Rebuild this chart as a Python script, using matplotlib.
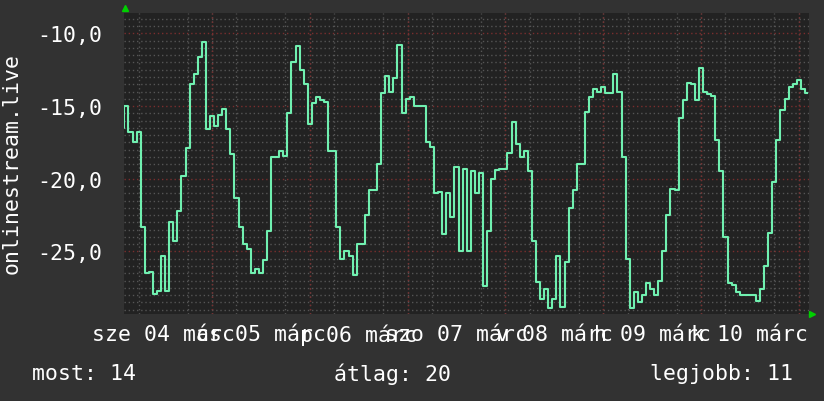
import matplotlib.pyplot as plt
import numpy as np

# rank of onlinestream.live, hourly samples, hours counted from "sze 04 márc" 00:00
start_hour = 2
rank = [-16.5, -15.0, -16.8, -17.5, -16.8, -23.3, -26.5, -26.4, -27.9, -27.7,
        -25.3, -27.7, -23.0, -24.3, -22.2, -19.8, -17.9, -13.5, -12.8, -11.6,
        -10.6, -16.6, -15.7, -16.4, -15.6, -15.2, -16.6, -18.3, -21.3, -23.3,
        -24.5, -24.8, -26.5, -26.2, -26.5, -25.6, -23.6, -18.5, -18.5, -18.1,
        -18.4, -15.5, -12.0, -10.9, -12.5, -13.5, -16.2, -14.8, -14.4, -14.6,
        -14.7, -18.1, -18.1, -23.3, -25.5, -25.0, -25.3, -26.6, -24.5, -24.5,
        -22.5, -20.8, -20.8, -19.0, -14.1, -12.9, -14.0, -13.1, -10.8, -15.5,
        -14.5, -14.4, -15.0, -15.0, -15.0, -17.5, -17.8, -21.0, -20.9, -23.8,
        -21.0, -22.6, -19.2, -25.0, -19.3, -25.0, -19.5, -21.0, -19.6, -27.4,
        -23.6, -20.0, -19.4, -19.3, -19.3, -18.2, -16.1, -17.6, -18.5, -18.1,
        -19.5, -24.3, -27.1, -28.3, -27.6, -28.9, -28.3, -25.3, -28.8, -25.7,
        -22.0, -20.8, -19.0, -19.0, -15.4, -14.4, -13.8, -14.0, -13.7, -14.1,
        -14.1, -12.8, -14.0, -18.5, -25.5, -28.9, -27.8, -28.5, -28.0, -27.2,
        -27.6, -28.0, -27.0, -25.0, -22.5, -20.7, -20.8, -15.8, -14.6, -13.4,
        -13.5, -14.6, -12.4, -14.0, -14.2, -14.3, -17.3, -19.5, -24.0, -27.2,
        -27.3, -27.8, -28.0, -28.0, -28.0, -28.0, -28.4, -27.6, -26.0, -23.7,
        -20.2, -17.3, -15.3, -14.5, -13.7, -13.5, -13.2, -13.8, -14.1]

day_labels = ['sze 04 márc', 'cs 05 márc', 'p 06 márc', 'szo 07 márc',
              'v 08 márc', 'h 09 márc', 'k 10 márc']
y_ticks = [-25, -20, -15, -10]
summary = ['most: 14', 'átlag: 20', 'legjobb: 11']

bg = '#323232'
plot_bg = '#222222'
line_color = '#70f0b0'
minor_grid = '#555555'
major_grid = '#7a2e2e'

plt.rcParams['font.family'] = 'DejaVu Sans Mono'
plt.rcParams['font.size'] = 15.5

fig = plt.figure(figsize=(8.24, 4.02), dpi=100, facecolor=bg)
ax = fig.add_axes([124 / 824, 1 - 315 / 402, 685 / 824, 301 / 402])
ax.set_facecolor(plot_bg)

hours = np.arange(len(rank)) + start_hour
ax.plot(hours, rank, color=line_color, lw=1.5, drawstyle='steps-mid', zorder=3)

ax.set_xlim(2.4, 170.5)
ax.set_ylim(-29.3, -8.6)

# x axis: labels at noon, gray grid every 6h, red grid at midnight
noon = [12 + 24 * i for i in range(len(day_labels))]
ax.set_xticks(noon, labels=day_labels)
ax.set_xticks(np.arange(6, 171, 6), minor=True)
ax.tick_params(axis='x', which='both', length=0, pad=7, colors='white')
for h in range(24, 171, 24):
    ax.axvline(h, color=major_grid, lw=1, ls=(0, (1, 2)), zorder=2)

# y axis
ax.set_yticks(y_ticks)
ax.set_yticks(np.arange(-29, -8.6, 0.5), minor=True)
ax.tick_params(axis='y', which='both', length=0, pad=16, colors='white')
ax.yaxis.set_ticklabels([('%.1f' % v).replace('.', ',') for v in y_ticks])
for v in y_ticks:
    ax.axhline(v, color=major_grid, lw=1, ls=(0, (1, 2)), zorder=2)

ax.grid(which='minor', color=minor_grid, lw=1, ls=(0, (1, 2)), zorder=1)
ax.grid(which='major', visible=False)
ax.set_axisbelow(True)
for s in ax.spines.values():
    s.set_visible(False)

# axis arrows
ax.plot([0.002], [1.017], marker='^', color='#00d000', ms=5, transform=ax.transAxes, clip_on=False)
ax.plot([1.005], [0.0], marker='>', color='#00d000', ms=5, transform=ax.transAxes, clip_on=False)

fig.text(12 / 824, 1 - 164 / 402, 'onlinestream.live', rotation=90, color='white',
         ha='center', va='center')
fig.text(32 / 824, 1 - 374 / 402, summary[0], color='white', ha='left', va='center')
fig.text(334 / 824, 1 - 374 / 402, summary[1], color='white', ha='left', va='center')
fig.text(650 / 824, 1 - 374 / 402, summary[2], color='white', ha='left', va='center')

fig.savefig('out.png', dpi=100, facecolor=bg)
